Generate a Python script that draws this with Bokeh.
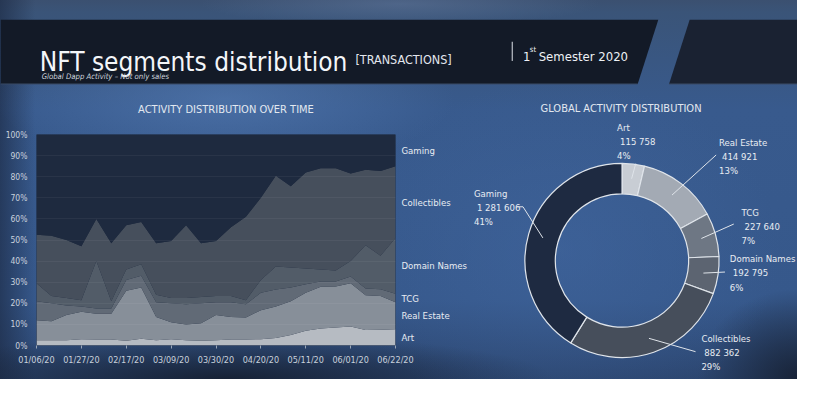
import numpy as np
import pandas as pd
from bokeh.plotting import figure
from bokeh.models import (ColumnDataSource, Range1d, Label, LabelSet, FixedTicker,
                          DatetimeTickFormatter, PrintfTickFormatter, LinearAxis)
from bokeh.layouts import column, row
from bokeh.embed import file_html
from bokeh.resources import INLINE
from bokeh.core.properties import value

# ---------------- data ----------------
dates = ["2020-01-06", "2020-01-13", "2020-01-20", "2020-01-27", "2020-02-03",
         "2020-02-10", "2020-02-17", "2020-02-24", "2020-03-02", "2020-03-09",
         "2020-03-16", "2020-03-23", "2020-03-30", "2020-04-06", "2020-04-13",
         "2020-04-20", "2020-04-27", "2020-05-04", "2020-05-11", "2020-05-18",
         "2020-05-25", "2020-06-01", "2020-06-08", "2020-06-15", "2020-06-22"]
art = [2.5, 2.5, 2.5, 3.0, 2.8, 2.8, 2.3, 3.2, 2.5, 3.0, 2.5, 2.3, 2.5, 2.8, 2.8,
       3.0, 3.5, 5.0, 7.0, 8.0, 8.5, 9.0, 7.3, 7.5, 7.7]
real_estate = [9.5, 9.0, 12.0, 13.0, 12.2, 12.2, 23.7, 24.3, 11.0, 8.0, 7.5, 8.2, 12.0,
               10.7, 10.5, 13.7, 15.0, 16.0, 18.0, 19.8, 19.5, 20.5, 16.5, 16.0, 12.8]
tcg = [9.0, 8.5, 4.5, 2.5, 2.5, 2.5, 5.0, 5.5, 7.0, 9.0, 9.5, 9.5, 6.0, 7.0, 6.2,
       8.3, 8.0, 6.5, 4.0, 2.5, 2.3, 3.2, 3.2, 3.1, 4.0]
domain_names = [8.5, 3.5, 3.5, 3.0, 22.5, 3.5, 5.0, 5.5, 3.5, 2.5, 3.0, 3.0, 3.0, 3.0,
                2.0, 6.0, 11.0, 9.5, 7.5, 5.7, 5.2, 7.3, 20.5, 15.9, 26.5]
collectibles = [23.0, 28.5, 27.5, 25.5, 20.0, 27.5, 21.0, 20.0, 24.5, 27.0, 34.5, 25.5,
                26.0, 32.5, 39.5, 39.0, 43.0, 38.5, 45.5, 48.0, 48.5, 41.5, 35.8, 40.2, 34.0]
gaming = [47.5, 48.0, 50.0, 53.0, 40.0, 51.5, 43.0, 41.5, 51.5, 50.5, 43.0, 51.5, 50.5,
          44.0, 39.0, 30.0, 19.5, 24.5, 18.0, 16.0, 16.0, 18.5, 16.7, 17.3, 15.0]

tick_dates = ["2020-01-06", "2020-01-27", "2020-02-17", "2020-03-09", "2020-03-30",
              "2020-04-20", "2020-05-11", "2020-06-01", "2020-06-22"]
y_ticks = [0, 10, 20, 30, 40, 50, 60, 70, 80, 90, 100]

segments = ["Art", "Real Estate", "TCG", "Domain Names", "Collectibles", "Gaming"]
totals = [115758, 414921, 227640, 192795, 882362, 1281606]
shares = ["4%", "13%", "7%", "6%", "29%", "41%"]

# ---------------- style ----------------
FONT = "DejaVu Sans Condensed"
TXT = "#e8ecf2"
stack_colors = ["#b6bbc2", "#878f99", "#616a76", "#525c68", "#464f5c", "#1e2a3f"]
donut_colors = ["#c8cdd4", "#a3aab4", "#6e7784", "#5c6471", "#464e5b", "#1e2a41"]

# whole page = 797 x 379 px, drawn in reference units 813 x 395
W, H = 797, 379
SX, SY = W / 813.0, H / 395.0
HDR_H = 117
BOT_H = H - HDR_H
Y_SPLIT = HDR_H / SY          # reference y where the chart row starts
LEFT_W = 470
RIGHT_W = W - LEFT_W
X_SPLIT = LEFT_W / SX


def bare(fig):
    fig.grid.visible = False
    fig.outline_line_color = None
    fig.background_fill_color = None
    fig.border_fill_color = None
    fig.frame_align = False


# ---------------- header ----------------
hdr = figure(width=W, height=HDR_H, x_range=Range1d(0, 813), y_range=Range1d(-Y_SPLIT, 0),
             output_backend="svg", toolbar_location=None, min_border=0,
             x_axis_type=None, y_axis_type=None)
bare(hdr)
hdr.patch([0, 671, 650, 0], [-20, -20, -87, -87], fill_color="#131a27", line_color=None)
hdr.patch([703, 813, 813, 682], [-20, -20, -87, -87], fill_color="#1a2232", line_color=None)
hdr.segment(x0=[0, 682], y0=[-87, -87], x1=[650, 813], y1=[-87, -87],
            line_color="#3a4a65", line_width=1)
hdr.segment(x0=[522], y0=[-43], x1=[522], y1=[-63], line_color="#dfe3ea", line_width=1)


def hlabel(x, y, text, size, style="normal", color=TXT, align="left", base="alphabetic"):
    hdr.add_layout(Label(x=x, y=-y, text=text, text_font=FONT, text_font_size=size,
                         text_font_style=style, text_color=color, text_align=align,
                         text_baseline=base))


hlabel(40, 64, "NFT segments distribution", "26px", color="#f4f6f9")
hlabel(362, 61, "[TRANSACTIONS]", "12.5px", color="#e3e7ee")
hlabel(42, 79, "Global Dapp Activity \u2013 Not only sales", "7.7px", style="italic",
       color="#cfd5de")
hlabel(533, 58, "1", "13px", color="#eef1f5")
hlabel(540, 51, "st", "7.5px", color="#eef1f5")
hlabel(549, 58, "Semester 2020", "13px", color="#eef1f5")
hlabel(230, 114, "ACTIVITY DISTRIBUTION OVER TIME", "11px", align="center",
       base="middle", color="#e2e8f0")
hlabel(633, 113, "GLOBAL ACTIVITY DISTRIBUTION", "11px", align="center",
       base="middle", color="#e2e8f0")

# ---------------- stacked area chart ----------------
keys = ["art", "real_estate", "tcg", "domain_names", "collectibles", "gaming"]
src = ColumnDataSource(dict(date=pd.to_datetime(dates), art=art, real_estate=real_estate,
                            tcg=tcg, domain_names=domain_names,
                            collectibles=collectibles, gaming=gaming))
d0, d1 = pd.Timestamp(dates[0]), pd.Timestamp(dates[-1])
b_left = int(round(37 * SX))
b_right = LEFT_W - int(round(405 * SX))
b_top = int(round(140 * SY)) - HDR_H
b_bottom = BOT_H - (int(round(360 * SY)) - HDR_H)
p = figure(width=LEFT_W, height=BOT_H, x_axis_type="datetime",
           x_range=Range1d(d0, d1), y_range=Range1d(0, 100),
           output_backend="svg", toolbar_location=None,
           min_border_left=b_left, min_border_right=b_right,
           min_border_top=b_top, min_border_bottom=b_bottom)
p.background_fill_color = "#1e2a3f"
p.border_fill_color = None
p.outline_line_color = None
p.frame_align = False
p.varea_stack(stackers=keys, x="date", color=stack_colors, source=src)

p.xgrid.visible = False
p.ygrid.ticker = FixedTicker(ticks=y_ticks)
p.ygrid.grid_line_color = "#ffffff"
p.ygrid.grid_line_alpha = 0.05
p.ygrid.level = "overlay"

p.yaxis.ticker = FixedTicker(ticks=y_ticks)
p.yaxis.formatter = PrintfTickFormatter(format="%d%%")
p.yaxis.axis_line_color = None
p.yaxis.major_tick_line_color = None
p.yaxis.minor_tick_line_color = None
p.yaxis.major_tick_out = 0
p.yaxis.major_tick_in = 0
p.yaxis.minor_tick_out = 0
p.yaxis.major_label_standoff = 9
p.yaxis.major_label_text_font = FONT
p.yaxis.major_label_text_font_size = "8.5px"
p.yaxis.major_label_text_color = "#c9d1dc"

fmt = "%m/%d/%y"
p.xaxis.ticker = FixedTicker(ticks=[pd.Timestamp(t).timestamp() * 1000 for t in tick_dates])
p.xaxis.formatter = DatetimeTickFormatter(days=fmt, months=fmt, hours=fmt, years=fmt,
                                          minutes=fmt, seconds=fmt, milliseconds=fmt,
                                          microseconds=fmt, minsec=fmt, hourmin=fmt)
p.xaxis.axis_line_color = None
p.xaxis.major_tick_line_color = "#9aa6b6"
p.xaxis.major_tick_out = 3
p.xaxis.major_tick_in = 0
p.xaxis.minor_tick_line_color = None
p.xaxis.minor_tick_out = 0
p.xaxis.major_label_standoff = 6
p.xaxis.major_label_text_font = FONT
p.xaxis.major_label_text_font_size = "9px"
p.xaxis.major_label_text_color = "#c9d1dc"

# series names on a right-hand axis, centred on the last band
last_vals = [src.data[k][-1] for k in keys]
cum = np.cumsum(last_vals)
mids = [round(float(m), 3) for m in (cum - np.array(last_vals) / 2.0)]
rax = LinearAxis(ticker=FixedTicker(ticks=mids),
                 major_label_overrides={m: n for m, n in zip(mids, segments)})
rax.axis_line_color = None
rax.major_tick_line_color = None
rax.minor_tick_line_color = None
rax.major_tick_out = 0
rax.major_tick_in = 0
rax.minor_tick_out = 0
rax.major_label_standoff = 6
rax.major_label_text_font = FONT
rax.major_label_text_font_size = "9.5px"
rax.major_label_text_color = TXT
p.add_layout(rax, "right")

# ---------------- donut ----------------
cx, cy = 634, -271
r_in, r_out = 68, 99
frac = np.array(totals, dtype=float) / sum(totals)
c_end = np.cumsum(frac)
c_start = c_end - frac
start_angle = np.pi / 2 - c_end * 2 * np.pi
end_angle = np.pi / 2 - c_start * 2 * np.pi
mid_angle = np.pi / 2 - (c_start + frac / 2) * 2 * np.pi

q = figure(width=RIGHT_W, height=BOT_H, x_range=Range1d(X_SPLIT, 813),
           y_range=Range1d(-395, -Y_SPLIT),
           output_backend="svg", toolbar_location=None, min_border=0,
           x_axis_type=None, y_axis_type=None)
bare(q)
wsrc = ColumnDataSource(dict(start=start_angle, end=end_angle, color=donut_colors))
q.annular_wedge(x=cx, y=cy, inner_radius=r_in, outer_radius=r_out,
                start_angle="start", end_angle="end", fill_color="color",
                line_color="#dfe4ea", line_width=1.2, source=wsrc)

# leader lines: from inside each slice to its label block
r_lead = 84
aspect = SX / SY     # radius is measured along x; keep points on the drawn circle
lead_ends = [[(648, 170)], [(730, 161)], [(748, 233)], [(739, 283)], [(709, 366)],
             [(533, 215), (527, 215)]]
xs, ys = [], []
for a, pts in zip(mid_angle, lead_ends):
    xs.append([cx + r_lead * np.cos(a)] + [pt[0] for pt in pts])
    ys.append([cy + r_lead * np.sin(a) * aspect] + [-pt[1] for pt in pts])
q.multi_line(xs=xs, ys=ys, line_color="#dfe4ea", line_width=1)

label_pos = [(629, 132), (733, 148), (756, 221), (744, 269), (715, 352), (483, 201)]
lx, ly, lt = [], [], []
for (x0, y0), name, tot, sh in zip(label_pos, segments, totals, shares):
    num = f"{tot:,}".replace(",", " ")
    for i, (txt, dx) in enumerate([(name, 0), (num, 3), (sh, 0)]):
        lx.append(x0 + dx)
        ly.append(-(y0 + i * 14.8))
        lt.append(txt)
q.add_layout(LabelSet(x="x", y="y", text="text",
                      source=ColumnDataSource(dict(x=lx, y=ly, text=lt)),
                      text_baseline="middle", text_font=value(FONT),
                      text_font_size=value("9.5px"), text_color=value(TXT)))

# ---------------- page ----------------
bg = ", ".join([
    "radial-gradient(ellipse 230px 70px at 225px 100px, rgba(88,128,185,0.55), rgba(88,128,185,0))",
    "radial-gradient(ellipse 200px 22px at 400px 4px, rgba(95,118,155,0.55), rgba(95,118,155,0))",
    "radial-gradient(ellipse 220px 170px at 560px 250px, rgba(66,104,162,0.5), rgba(66,104,162,0))",
    "radial-gradient(ellipse 330px 45px at 225px 379px, rgba(22,32,50,0.95), rgba(22,32,50,0))",
    "radial-gradient(ellipse 100px 90px at 797px 379px, rgba(22,32,50,0.9), rgba(22,32,50,0))",
    "linear-gradient(90deg, rgba(28,42,68,0.65) 0px, rgba(28,42,68,0) 35px)",
    "linear-gradient(180deg, #3b5070 0px, #3a5478 12px, #385a8d 110px, #36588b 300px, #2c4670 379px)",
])
layout = column(hdr, row(p, q, spacing=0), spacing=0, styles={"background": bg})

open("out.html", "w").write(file_html(layout, INLINE))
